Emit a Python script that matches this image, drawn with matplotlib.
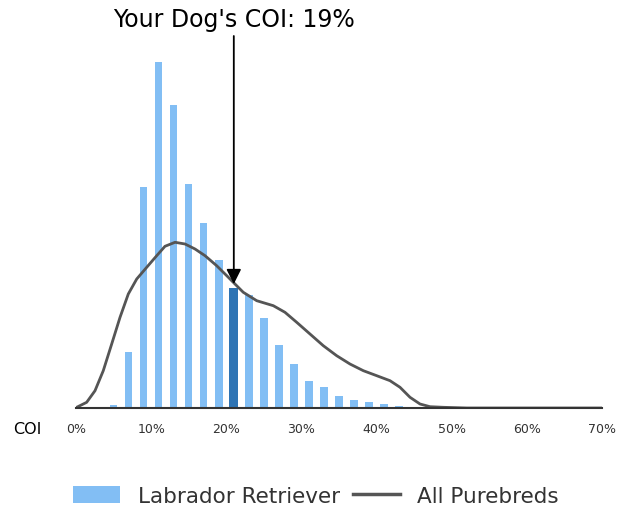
import matplotlib
matplotlib.use("Agg")
import matplotlib.pyplot as plt
import matplotlib.transforms as mtransforms
from matplotlib.patches import Patch
from matplotlib.lines import Line2D

# Labrador Retriever COI histogram (percent of dogs per 2% bin)
bin_centers = [5, 7, 9, 11, 13, 15, 17, 19, 21, 23, 25, 27, 29, 31, 33, 35, 37, 39, 41, 43, 45]
lab_pct = [0.15, 2.8, 11.05, 17.3, 15.15, 11.2, 9.25, 7.4, 6.0, 5.65, 4.5, 3.15,
           2.2, 1.35, 1.05, 0.6, 0.4, 0.3, 0.2, 0.1, 0.05]
your_coi_bin = 21

# All purebreds density curve
curve_x = [0.0, 0.09, 1.42, 2.53, 3.63, 4.75, 5.86, 6.96, 8.08, 9.41, 10.74, 11.84,
           13.18, 14.51, 15.84, 17.17, 18.72, 20.06, 20.93, 22.26, 24.05, 26.26,
           27.81, 29.37, 31.14, 32.91, 34.69, 36.46, 38.24, 40.02, 41.79, 43.12,
           44.45, 45.78, 47.11, 48.88, 52.0, 70.0]
curve_y = [0.03, 0.035, 0.285, 0.865, 1.865, 3.2, 4.535, 5.7, 6.45, 7.035, 7.615, 8.085,
           8.285, 8.2, 7.95, 7.615, 7.115, 6.615, 6.285, 5.785, 5.365, 5.115,
           4.785, 4.285, 3.7, 3.115, 2.615, 2.2, 1.865, 1.615, 1.365, 1.035,
           0.535, 0.2, 0.065, 0.035, 0.0, 0.0]

xticks = [0, 10, 20, 30, 40, 50, 60, 70]
xtick_labels = ["0%", "10%", "20%", "30%", "40%", "50%", "60%", "70%"]

light = "#82bef4"
dark = "#2e74b4"
curve_col = "#555555"
txt_col = "#333333"

fig = plt.figure(figsize=(6.2, 5.1), dpi=100)
ax = fig.add_axes([76 / 620, 1 - 409 / 510, 526 / 620, 371 / 510])

for x, h in zip(bin_centers, lab_pct):
    if x == your_coi_bin:
        ax.bar(x, h, width=1.25, color=dark, zorder=2)
    else:
        ax.bar(x, h, width=1.0, color=light, zorder=2)

ax.plot(curve_x, curve_y, color=curve_col, lw=2.0, zorder=3,
        solid_capstyle="round", solid_joinstyle="round")

ax.set_xlim(0, 70)
ax.set_ylim(0, 18.55)
ax.set_xticks(xticks)
ax.set_xticklabels(xtick_labels, fontsize=9, color=txt_col)
ax.set_yticks([])
ax.tick_params(axis="x", length=0, pad=10)
for s in ["top", "right", "left"]:
    ax.spines[s].set_visible(False)
ax.spines["bottom"].set_color("#333333")
ax.spines["bottom"].set_linewidth(1.5)
ax.spines["bottom"].set_zorder(4)

# arrow marking the dog's COI
ax.annotate("", xy=(your_coi_bin, 6.2), xytext=(your_coi_bin, 18.6),
            arrowprops=dict(arrowstyle="-|>,head_length=0.8,head_width=0.4",
                            mutation_scale=11, color="black", lw=1.3,
                            shrinkA=0, shrinkB=0), zorder=5)
trans = mtransforms.blended_transform_factory(ax.transData, fig.transFigure)
ax.text(your_coi_bin, 1 - 20 / 510, "Your Dog's COI: 19%", transform=trans,
        ha="center", va="center", fontsize=17, color="black")

fig.text(27 / 620, 1 - 430 / 510, "COI", ha="center", va="center",
         fontsize=11.5, color="black")

handles = [Patch(facecolor=light, edgecolor="none"),
           Line2D([0], [0], color=curve_col, lw=2.5)]
fig.legend(handles, ["Labrador Retriever", "All Purebreds"], loc="center",
           bbox_to_anchor=(316 / 620, 1 - 497 / 510), ncol=2, frameon=False,
           fontsize=15.5, handlelength=2.2, handleheight=0.8, handletextpad=0.8,
           columnspacing=0.6, labelcolor=txt_col)

fig.savefig("out.png", dpi=100)
